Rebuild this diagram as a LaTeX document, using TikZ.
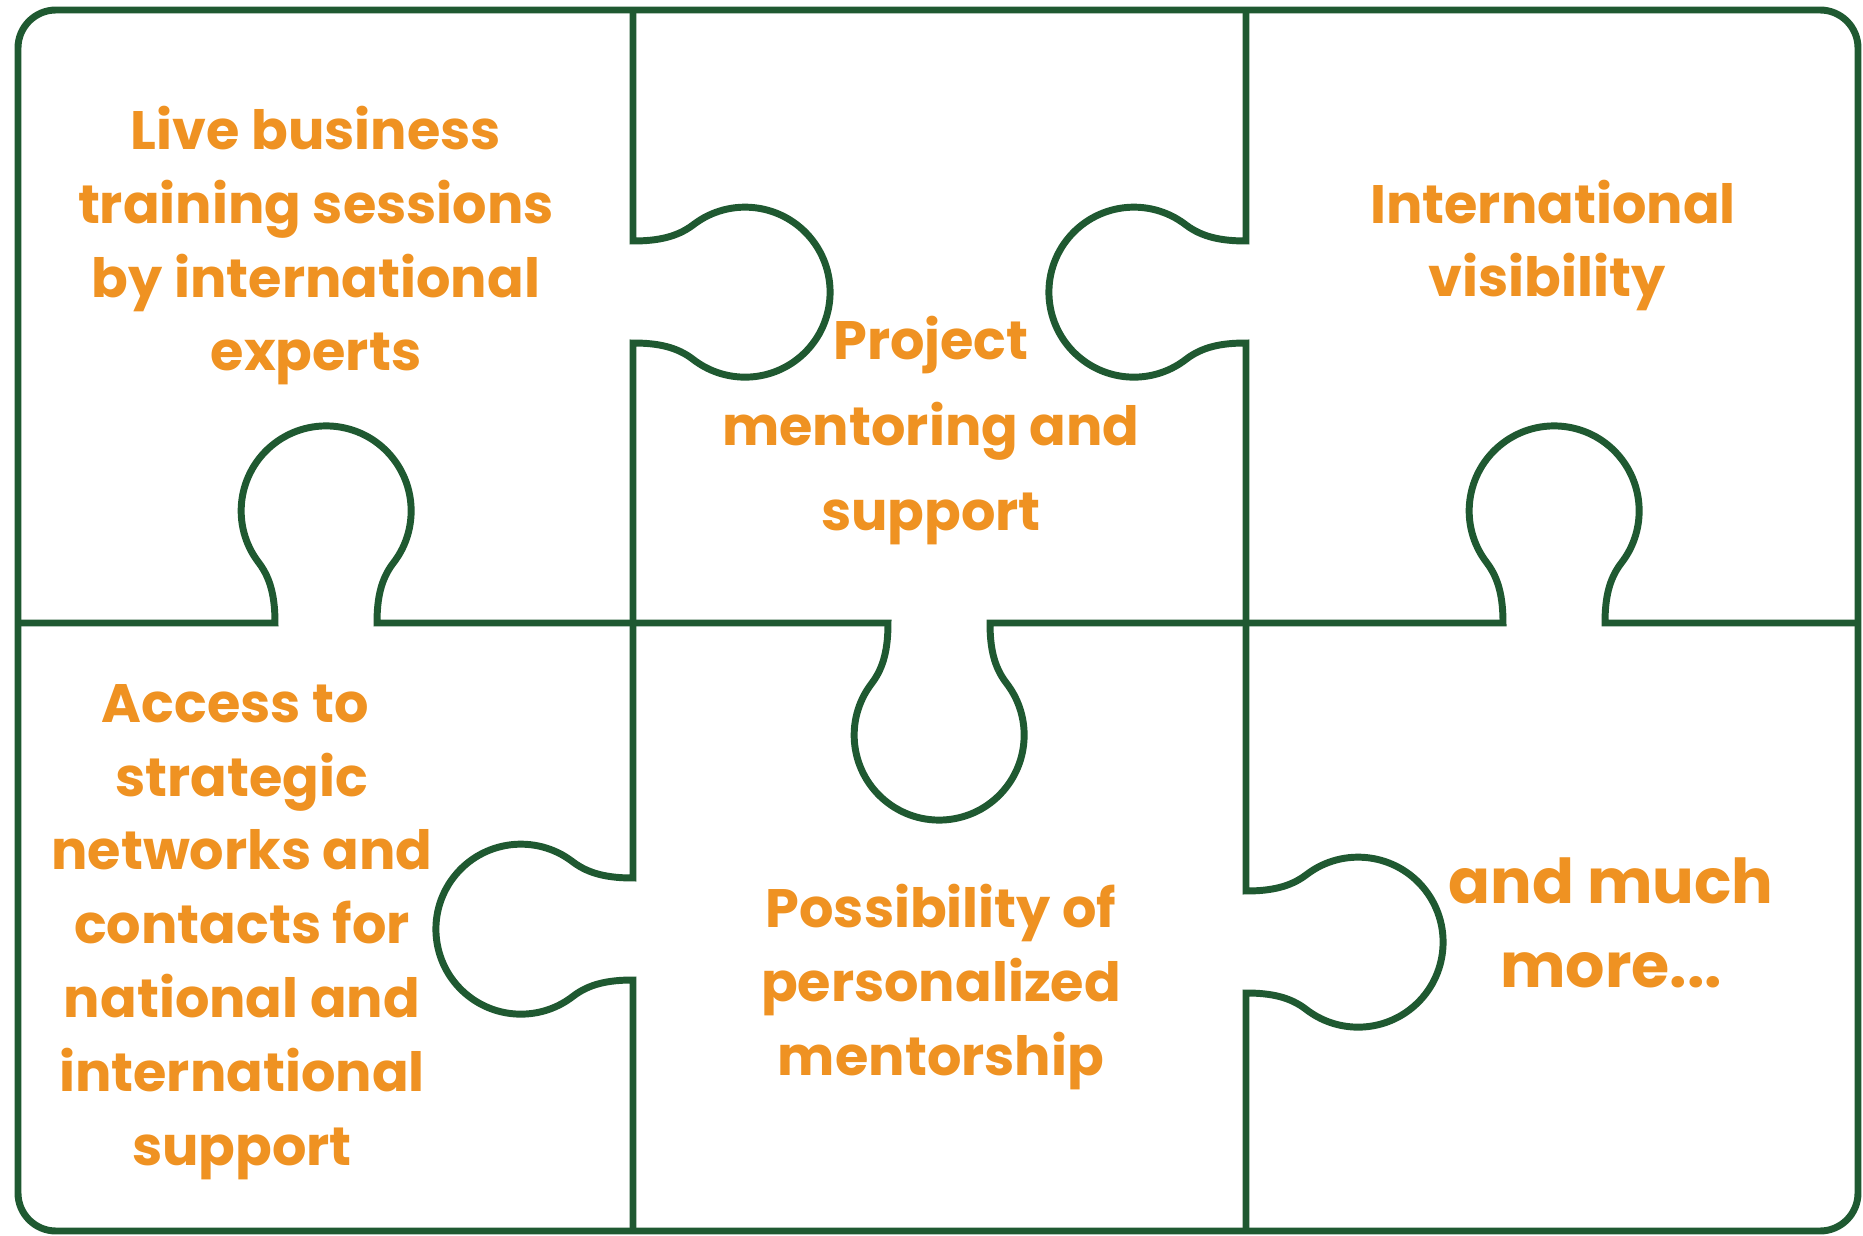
\documentclass[tikz,border=0pt]{standalone}
\usepackage{fontspec}
\setmainfont{Poppins}
\definecolor{pgreen}{RGB}{31,89,49}
\definecolor{porange}{RGB}{239,146,34}
\tikzset{
  edge/.style={draw=pgreen, line width=3.95pt, line join=miter},
  label/.style={text=porange, font=\bfseries\fontsize{30.8pt}{42pt}\selectfont, align=center, anchor=base, inner sep=0pt},
  tabR/.style 2 args={insert path={ -- (#1,#2-51) .. controls (#1+25,#2-51) and (#1+44,#2-55) .. (#1+60,#2-67)
      arc[start angle=-127.8, end angle=127.8, radius=85]
      .. controls (#1+44,#2+55) and (#1+25,#2+51) .. (#1,#2+51) }},
  tabL/.style 2 args={insert path={ -- (#1,#2-51) .. controls (#1-25,#2-51) and (#1-44,#2-55) .. (#1-60,#2-67)
      arc[start angle=-52.2, end angle=-307.8, radius=85]
      .. controls (#1-44,#2+55) and (#1-25,#2+51) .. (#1,#2+51) }},
  tabU/.style 2 args={insert path={ -- (#1-51,#2) .. controls (#1-51,#2-25) and (#1-55,#2-44) .. (#1-67,#2-60)
      arc[start angle=142.2, end angle=397.8, radius=85]
      .. controls (#1+55,#2-44) and (#1+51,#2-25) .. (#1+51,#2) }},
  tabD/.style 2 args={insert path={ -- (#1-51,#2) .. controls (#1-51,#2+25) and (#1-55,#2+44) .. (#1-67,#2+60)
      arc[start angle=217.8, end angle=-37.8, radius=85]
      .. controls (#1+55,#2+44) and (#1+51,#2+25) .. (#1+51,#2) }},
}
\begin{document}
\begin{tikzpicture}[x=0.02cm, y=-0.02cm]
\useasboundingbox (0,0) rectangle (1863,1236);
% outer frame
\draw[edge, rounded corners=0.76cm] (18,10) rectangle (1858,1231);
% upper vertical boundaries
\draw[edge] (633,10) [tabR={633}{292}] -- (633,623);
\draw[edge] (1246,10) [tabL={1246}{292}] -- (1246,623);
% horizontal boundary
\draw[edge] (18,623) [tabU={326}{623}] [tabD={939}{623}] [tabU={1554}{623}] -- (1858,623);
% lower vertical boundaries
\draw[edge] (633,623) [tabL={633}{929}] -- (633,1231);
\draw[edge] (1246,623) [tabR={1246}{942}] -- (1246,1231);
% texts (anchor = baseline of the last line)
\node[label] (live) at (316,371) {Live business\\training sessions\\by international\\experts};
\node[label, font=\bfseries\fontsize{30.8pt}{48.8pt}\selectfont] (project) at (931,531) {Project\\mentoring and\\support};
\node[label] (intl) at (1553,297) {International\\visibility\kern7pt};
\node[label] (access) at (242,1165) {Access to\kern7.7pt\\strategic\\networks and\\contacts for\\national and\\international\\support};
\node[label] (possib) at (941,1075) {Possibility of\\personalized\\mentorship};
\node[label, font=\bfseries\fontsize{35.2pt}{47.6pt}\selectfont] (more) at (1611,987) {and much\\more...};
\end{tikzpicture}
\end{document}
